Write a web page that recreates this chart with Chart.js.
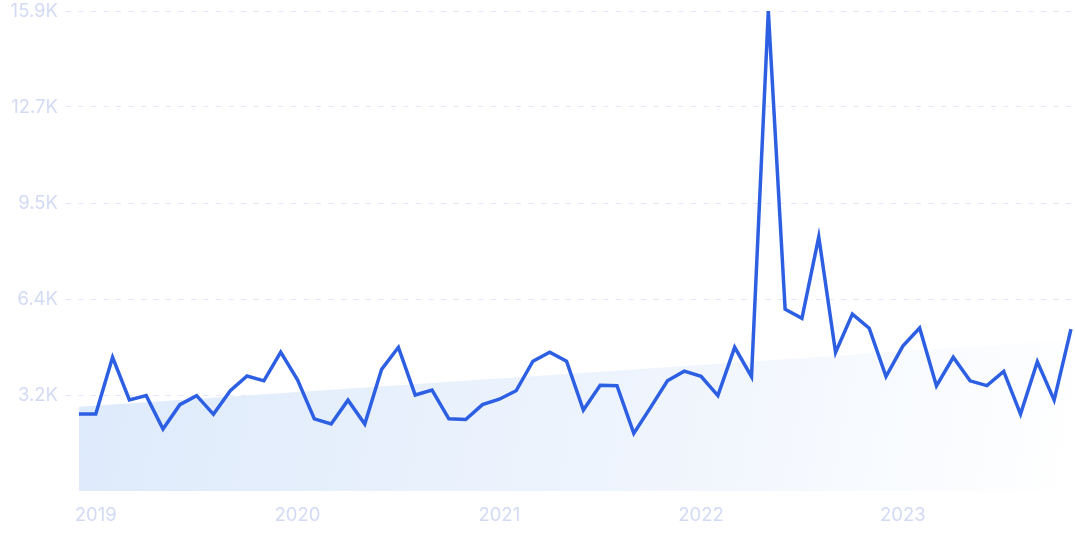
<!DOCTYPE html>
<html>
<head>
<meta charset="utf-8">
<script src="https://cdn.jsdelivr.net/npm/chart.js@4.4.1/dist/chart.umd.min.js"></script>
<style>
  html, body { margin: 0; padding: 0; background: #ffffff; }
  #wrap { width: 1075px; height: 537px; position: relative; }
</style>
</head>
<body>
<div id="wrap"><canvas id="c"></canvas></div>
<script>
// Monthly points, Dec 2018 .. Nov 2023
const months = [
  "2018-12",
  "2019-01","2019-02","2019-03","2019-04","2019-05","2019-06","2019-07","2019-08","2019-09","2019-10","2019-11","2019-12",
  "2020-01","2020-02","2020-03","2020-04","2020-05","2020-06","2020-07","2020-08","2020-09","2020-10","2020-11","2020-12",
  "2021-01","2021-02","2021-03","2021-04","2021-05","2021-06","2021-07","2021-08","2021-09","2021-10","2021-11","2021-12",
  "2022-01","2022-02","2022-03","2022-04","2022-05","2022-06","2022-07","2022-08","2022-09","2022-10","2022-11","2022-12",
  "2023-01","2023-02","2023-03","2023-04","2023-05","2023-06","2023-07","2023-08","2023-09","2023-10","2023-11"
];
const searches = [
  2550,
  2550,4430,3020,3160,2050,2860,3160,2540,3320,3810,3650,4600,
  3680,2390,2220,3010,2220,4030,4760,3180,3340,2390,2370,2860,
  3040,3320,4300,4600,4300,2680,3500,3490,1910,2770,3650,3970,
  3800,3160,4760,3790,15900,6020,5720,8420,4590,5860,5390,3790,
  4800,5400,3480,4430,3650,3490,3960,2550,4280,3010,5360
];
// Trend line end values (first and last month)
const trendStart = 2790;
const trendEnd = 5000;

const yearTicks = ["2019-01","2020-01","2021-01","2022-01","2023-01"];
const yearLabels = ["2019","2020","2021","2022","2023"];
const yTickValues = [3180, 6360, 9540, 12720, 15900];
const yTickLabels = ["3.2K","6.4K","9.5K","12.7K","15.9K"];

const linePoints = searches.map((v, i) => ({ x: i, y: v }));
const trendPoints = [
  { x: 0, y: trendStart },
  { x: months.length - 1, y: trendEnd }
];

const tickFont = { family: "Inter", size: 18.5, weight: "400" };
const tickColor = "#d3daf4";

new Chart(document.getElementById("c"), {
  type: "line",
  data: {
    datasets: [
      {
        data: linePoints,
        borderColor: "#2d5fe3",
        borderWidth: 3.5,
        pointRadius: 0,
        tension: 0,
        fill: false,
        order: 1
      },
      {
        data: trendPoints,
        borderWidth: 0,
        borderColor: "rgba(0,0,0,0)",
        pointRadius: 0,
        fill: "origin",
        order: 2,
        backgroundColor: (ctx) => {
          const ca = ctx.chart.chartArea;
          if (!ca) return "rgba(220,233,250,0.9)";
          const g = ctx.chart.ctx.createLinearGradient(ca.left, ca.top + ca.height * 0.6, ca.right, ca.bottom);
          g.addColorStop(0, "rgba(221,234,251,1)");
          g.addColorStop(0.55, "rgba(238,244,253,1)");
          g.addColorStop(1, "rgba(255,255,255,1)");
          return g;
        }
      }
    ]
  },
  options: {
    responsive: true,
    maintainAspectRatio: false,
    animation: false,
    layout: { padding: 0 },
    plugins: { legend: { display: false }, tooltip: { enabled: false } },
    scales: {
      x: {
        type: "linear",
        min: -0.77,
        max: 59.24,
        grid: { display: false, drawTicks: false },
        border: { display: false },
        afterBuildTicks: (scale) => {
          scale.ticks = yearTicks.map(m => ({ value: months.indexOf(m) }));
        },
        afterFit: (scale) => {
          scale.height = 46;
          scale.paddingLeft = 0;
          scale.paddingRight = 0;
        },
        ticks: {
          autoSkip: false,
          maxRotation: 0,
          padding: 13,
          color: tickColor,
          font: tickFont,
          callback: (v) => {
            const k = yearTicks.indexOf(months[v]);
            return k >= 0 ? yearLabels[k] : "";
          }
        }
      },
      y: {
        min: 0,
        max: 15900,
        grid: {
          color: "#e1e6f8",
          lineWidth: 1,
          drawTicks: false
        },
        border: { display: false, dash: [5, 7.5] },
        afterBuildTicks: (scale) => {
          scale.ticks = yTickValues.map(v => ({ value: v }));
        },
        afterFit: (scale) => {
          scale.width = 66;
          scale.paddingTop = 11;
          scale.paddingBottom = 0;
        },
        ticks: {
          padding: 8,
          color: tickColor,
          font: tickFont,
          callback: (v) => {
            const k = yTickValues.indexOf(v);
            return k >= 0 ? yTickLabels[k] : "";
          }
        }
      }
    }
  }
});
</script>
</body>
</html>
